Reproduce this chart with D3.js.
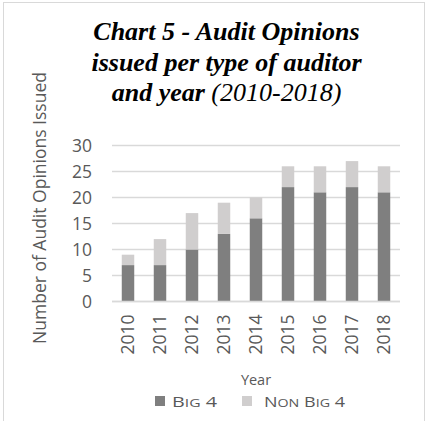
<!DOCTYPE html>
<html><head><meta charset="utf-8">
<script src="https://cdn.jsdelivr.net/npm/d3@7"></script>
<style>body{margin:0;background:#fff}</style>
</head><body>
<svg id="c" width="429" height="421"></svg>
<script>
const years = ["2010","2011","2012","2013","2014","2015","2016","2017","2018"];
const big4 = [7,7,10,13,16,22,21,22,21];
const nonBig4 = [2,5,7,6,4,4,5,5,5];
const yTicks = [0,5,10,15,20,25,30];
const seriesNames = ["Big 4","Non Big 4"];
const colors = ["#7f7f7f","#d0cece"];

const svg = d3.select("#c");
svg.append("rect").attr("x",3.5).attr("y",2.5).attr("width",421).attr("height",430)
  .attr("fill","#fff").attr("stroke","#d9d9d9");

const x = d3.scaleBand().domain(years).range([112,400]).paddingInner(0.61).paddingOuter(0.305);
const y = d3.scaleLinear().domain([0,30]).range([301.5,145.5]);

// gridlines
svg.append("g").selectAll("line").data(yTicks).join("line")
  .attr("x1",112).attr("x2",400).attr("y1",d=>y(d)).attr("y2",d=>y(d))
  .attr("stroke","#d9d9d9").attr("stroke-width",1.3);

// y axis labels
const ya = svg.append("g").attr("transform","translate(92,0)")
  .call(d3.axisLeft(y).tickValues(yTicks).tickSize(0).tickPadding(0));
ya.select(".domain").remove();
ya.selectAll("text").attr("font-family","Open Sans").attr("font-size",17.5).attr("fill","#595959");

// bars
const data = years.map((yr,i)=>({yr, b:big4[i], n:nonBig4[i]}));
const stack = d3.stack().keys(["b","n"])(data);
svg.append("g").selectAll("g").data(stack).join("g").attr("fill",(d,i)=>colors[i])
  .selectAll("rect").data(d=>d).join("rect")
  .attr("x",d=>x(d.data.yr)).attr("width",x.bandwidth())
  .attr("y",d=>y(d[1])).attr("height",d=>y(d[0])-y(d[1]));

// x axis line
svg.append("line").attr("x1",112).attr("x2",400).attr("y1",y(0)).attr("y2",y(0))
  .attr("stroke","#d9d9d9").attr("stroke-width",1.3);

// x labels
const xa = svg.append("g").attr("transform",`translate(0,${y(0)})`)
  .call(d3.axisBottom(x).tickSize(0).tickPadding(0));
xa.select(".domain").remove();
xa.selectAll("text").attr("font-family","Open Sans").attr("font-size",17.5).attr("fill","#595959")
  .attr("transform","rotate(-90)").attr("text-anchor","end").attr("dy","0.35em").attr("dx","-13").attr("y",0);

// axis titles
svg.append("text").attr("transform","translate(46,208) rotate(-90)").attr("text-anchor","middle")
  .attr("font-family","Open Sans").attr("font-size",17.5).attr("fill","#595959")
  .text("Number of Audit Opinions Issued");
svg.append("text").attr("x",256).attr("y",385).attr("text-anchor","middle")
  .attr("font-family","Open Sans").attr("font-size",14.5).attr("fill","#595959").text("Year");

// title
const t = svg.append("text").attr("text-anchor","middle").attr("font-family","Liberation Serif")
  .attr("font-size",26).attr("font-weight","bold").attr("font-style","italic").attr("fill","#000");
t.append("tspan").attr("x",226.5).attr("y",39.5).text("Chart 5 - Audit Opinions");
t.append("tspan").attr("x",226.5).attr("y",70.5).text("issued per type of auditor");
const l3 = t.append("tspan").attr("x",226.5).attr("y",100.5);
l3.append("tspan").text("and year ");
l3.append("tspan").attr("font-weight","normal").text("(2010-2018)");

// legend (small caps rendered manually)
const legX = [155,242];
const legW = [45,81];
const lg = svg.append("g").selectAll("g").data(seriesNames).join("g")
  .attr("transform",(d,i)=>`translate(${legX[i]},396)`);
lg.append("rect").attr("width",10).attr("height",10).attr("fill",(d,i)=>colors[i]);
const lt = lg.append("text").attr("x",(d,i)=>i?22:17).attr("y",10.5)
  .attr("font-family","Open Sans").attr("font-size",14.5).attr("fill","#595959")
  .attr("textLength",(d,i)=>legW[i]).attr("lengthAdjust","spacingAndGlyphs");
lt.each(function(name){
  const el = d3.select(this);
  name.split(/(\s+)/).forEach(word=>{
    if(/^\s+$/.test(word)){ el.append("tspan").text(word); return; }
    el.append("tspan").text(word[0]);
    if(word.length>1) el.append("tspan").attr("font-size",11.5).text(word.slice(1).toUpperCase());
  });
});
</script>
</body></html>
